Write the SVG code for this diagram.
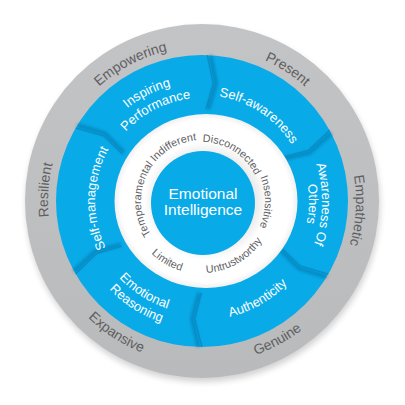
<svg xmlns="http://www.w3.org/2000/svg" width="405" height="405" viewBox="0 0 405 405">
<defs>
<filter id="blur2" x="-20%" y="-20%" width="140%" height="140%"><feGaussianBlur stdDeviation="3"/></filter>
<filter id="blur1" x="-50%" y="-50%" width="200%" height="200%"><feGaussianBlur stdDeviation="1.4"/></filter>
<linearGradient id="grayG" x1="0" y1="0" x2="0" y2="1"><stop offset="0" stop-color="#c3c4c6"/><stop offset="1" stop-color="#b9babc"/></linearGradient>
<radialGradient id="whiteG" cx="0.5" cy="0.5" r="0.5"><stop offset="0.55" stop-color="#ececed"/><stop offset="0.68" stop-color="#ffffff"/><stop offset="0.93" stop-color="#ffffff"/><stop offset="1" stop-color="#f0f0f1"/></radialGradient>
<path id="g_cw" d="M48,201 A154,154 0 0 1 356,201"/>
<path id="g_ccw" d="M39,201 A163,163 0 0 0 365,201"/>
<path id="b_cw119" d="M83,201 A119,119 0 0 1 321,201"/>
<path id="b_cw103" d="M99,201 A103,103 0 0 1 305,201"/>
<path id="b_cw106" d="M96,201 A106,106 0 0 1 308,201"/>
<path id="b_cw120" d="M82,201 A120,120 0 0 1 322,201"/>
<path id="b_cw107" d="M95,201 A107,107 0 0 1 309,201"/>
<path id="b_ccw119" d="M83,201 A119,119 0 0 0 321,201"/>
<path id="b_ccw113" d="M89,201 A113,113 0 0 0 315,201"/>
<path id="b_ccw128" d="M74,201 A128,128 0 0 0 330,201"/>
<path id="w_cw61" d="M141,201 A61,61 0 0 1 263,201"/>
<path id="w_cw59" d="M143,201 A59,59 0 0 1 261,201"/>
<path id="w_cw63" d="M139,201 A63,63 0 0 1 265,201"/>
<path id="w_ccw72" d="M130,201 A72,72 0 0 0 274,201"/>
<path id="w_ccw73" d="M129,201 A73,73 0 0 0 275,201"/>
<polyline id="dv1" points="207.1,55.1 213.3,83.5 206,109.1"/>
<polyline id="dv2" points="329.7,130.2 308.5,150.2 282.8,157.1"/>
<polyline id="dv3" points="328.4,274 300.4,266.1 281.3,247.7"/>
<polyline id="dv4" points="202,347 194.8,318.8 201.2,293"/>
<polyline id="dv5" points="75.6,274 96.4,253.7 121.9,246.3"/>
<polyline id="dv6" points="75.6,128 103.6,135.9 122.7,154.3"/>
</defs>
<style>
text{font-family:"Liberation Sans",Arial,sans-serif}
.gl{font-size:14px;fill:#5f5f61}
.bl{font-size:13px;fill:#ffffff}
.wl{font-size:10.8px;fill:#616163}
.ct{font-size:15.5px;fill:#ffffff}
.dsh{fill:none;stroke:#05679a;stroke-width:4;stroke-opacity:0.5;filter:url(#blur1)}
.dln{fill:none;stroke:#0b8ac4;stroke-width:1.1}
</style>
<rect width="405" height="405" fill="#ffffff"/>
<g id="ring-outer">
<circle cx="203" cy="205" r="177" fill="#000" opacity="0.18" filter="url(#blur2)"/>
<circle cx="202" cy="201" r="177" fill="url(#grayG)"/>
</g>
<g id="ring-blue">
<circle cx="202" cy="201" r="146" fill="#08aae8"/>
</g>
<g id="connectors">
<g transform="rotate(1.3 202 201)">
<use href="#dv1" class="dsh"/><use href="#dv2" class="dsh"/><use href="#dv3" class="dsh"/><use href="#dv4" class="dsh"/><use href="#dv5" class="dsh"/><use href="#dv6" class="dsh"/>
</g>
<use href="#dv1" class="dln"/><use href="#dv2" class="dln"/><use href="#dv3" class="dln"/><use href="#dv4" class="dln"/><use href="#dv5" class="dln"/><use href="#dv6" class="dln"/>
</g>
<g id="ring-white">
<ellipse cx="206" cy="201" rx="91.5" ry="87" fill="url(#whiteG)"/>
</g>
<g id="center">
<circle cx="203" cy="203" r="52" fill="#08aae8"/>
<text class="ct" x="203" y="198.5" text-anchor="middle">Emotional</text>
<text class="ct" x="203" y="214.5" text-anchor="middle">Intelligence</text>
</g>
<g id="outer-labels">
<g transform="rotate(-27.5 202 201)"><text class="gl"><textPath href="#g_cw" startOffset="50%" text-anchor="middle">Empowering</textPath></text></g>
<g transform="rotate(33 202 201)"><text class="gl"><textPath href="#g_cw" startOffset="50%" text-anchor="middle">Present</textPath></text></g>
<g transform="rotate(93.5 202 201)"><text class="gl"><textPath href="#g_cw" startOffset="50%" text-anchor="middle">Empathetic</textPath></text></g>
<g transform="rotate(-86 202 201)"><text class="gl"><textPath href="#g_cw" startOffset="50%" text-anchor="middle">Resilient</textPath></text></g>
<g transform="rotate(-28.5 202 201)"><text class="gl"><textPath href="#g_ccw" startOffset="50%" text-anchor="middle">Genuine</textPath></text></g>
<g transform="rotate(33 202 201)"><text class="gl"><textPath href="#g_ccw" startOffset="50%" text-anchor="middle">Expansive</textPath></text></g>
</g>
<g id="seg-inspiring" transform="rotate(-27 202 201)">
<text class="bl"><textPath href="#b_cw119" startOffset="50%" text-anchor="middle">Inspiring</textPath></text>
<text class="bl"><textPath href="#b_cw103" startOffset="50%" text-anchor="middle">Performance</textPath></text>
</g>
<g id="seg-selfawareness" transform="rotate(33.5 202 201)">
<text class="bl"><textPath href="#b_cw106" startOffset="50%" text-anchor="middle">Self-awareness</textPath></text>
</g>
<g id="seg-awareness-others" transform="rotate(91.5 202 201)">
<text class="bl"><textPath href="#b_cw120" startOffset="50%" text-anchor="middle">Awareness Of</textPath></text>
<text class="bl"><textPath href="#b_cw107" startOffset="50%" text-anchor="middle">Others</textPath></text>
</g>
<g id="seg-authenticity" transform="rotate(-29.7 202 201)">
<text class="bl"><textPath href="#b_ccw119" startOffset="50%" text-anchor="middle">Authenticity</textPath></text>
</g>
<g id="seg-emotional-reasoning" transform="rotate(32.5 202 201)">
<text class="bl"><textPath href="#b_ccw113" startOffset="50%" text-anchor="middle">Emotional</textPath></text>
<text class="bl"><textPath href="#b_ccw128" startOffset="50%" text-anchor="middle">Reasoning</textPath></text>
</g>
<g id="seg-selfmanagement" transform="rotate(-88.5 202 201)">
<text class="bl"><textPath href="#b_cw107" startOffset="50%" text-anchor="middle">Self-management</textPath></text>
</g>
<g id="inner-labels">
<g transform="rotate(-27.8 202 201)"><text class="wl"><textPath href="#w_cw61" startOffset="50%" text-anchor="middle">Indifferent</textPath></text></g>
<g transform="rotate(32.4 202 201)"><text class="wl"><textPath href="#w_cw59" startOffset="50%" text-anchor="middle">Disconnected</textPath></text></g>
<g transform="rotate(91 202 201)"><text class="wl"><textPath href="#w_cw63" startOffset="50%" text-anchor="middle">Insensitive</textPath></text></g>
<g transform="rotate(-88.3 202 201)"><text class="wl"><textPath href="#w_cw61" startOffset="50%" text-anchor="middle">Temperamental</textPath></text></g>
<g transform="rotate(-30 202 201)"><text class="wl"><textPath href="#w_ccw72" startOffset="50%" text-anchor="middle">Untrustworthy</textPath></text></g>
<g transform="rotate(30.3 202 201)"><text class="wl"><textPath href="#w_ccw73" startOffset="50%" text-anchor="middle">Limited</textPath></text></g>
</g>
</svg>
